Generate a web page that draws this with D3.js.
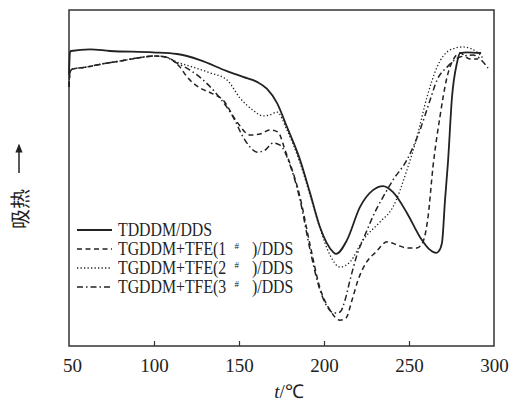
<!DOCTYPE html>
<html>
<head>
<meta charset="utf-8">
<script src="https://cdn.jsdelivr.net/npm/d3@7"></script>
<style>
  body { margin: 0; background: #fff; }
  text { fill: #222; }
</style>
</head>
<body>
<svg width="511" height="413"></svg>
<script>
// ====== données (t en °C, flux en u.a.) ====== //
const seriesNames = ["TDDDM/DDS", "TGDDM+TFE(1#)/DDS", "TGDDM+TFE(2#)/DDS", "TGDDM+TFE(3#)/DDS"];
const xTicks = [50, 100, 150, 200, 250, 300];

const tdddm = [
  [50, 80.7], [50.6, 87.5], [51.2, 87.8], [62.4, 88.3], [74.1, 87.8], [99.4, 87.4],
  [113.5, 86.9], [127.1, 85.1], [142.9, 81.8], [152.4, 80.1], [160.6, 78.6], [166.5, 76.5],
  [172.4, 72.3], [178.2, 65.2], [185.9, 55.4], [191.8, 45.5], [197.6, 35.4], [205.3, 28.0],
  [207.1, 27.4], [213.5, 31.5], [221.2, 41.4], [228.8, 46.4], [234.7, 47.6], [240.6, 45.8],
  [248.8, 39.6], [256.5, 32.4], [262.4, 28.6], [265.9, 27.7], [267.5, 28.2], [269.4, 30.7],
  [271.2, 43.5], [272.9, 54.5], [275.3, 74.1], [278.2, 84.2], [280, 87.2], [284, 87.4], [292.4, 87.2]
];

const tfe1 = [
  [50, 77.1], [50.6, 81.5], [52, 82.4], [60, 83.0], [70, 84.0], [80, 84.8], [90, 85.7],
  [100, 86.3], [106, 86.1], [115.3, 83.0], [119.4, 80.1], [127.1, 76.8], [134, 75.2],
  [140.6, 73.2], [148.8, 66.7], [156.5, 62.8], [162.4, 63.1], [168.2, 64.3], [172.9, 63.7],
  [177.1, 58.3], [185.9, 44.3], [191.8, 30.1], [197.6, 17.3], [203.5, 10.7], [209.4, 7.7],
  [212.9, 8.3], [216.5, 13.7], [220, 19.6], [224.7, 24.7], [230.6, 28.0], [237.1, 31.0],
  [242.9, 30.1], [248.8, 29.2], [254.7, 29.2], [258.2, 31.0], [261.2, 38.4], [264.1, 53.3],
  [268.2, 68.2], [272.4, 80.1], [275.9, 85.1], [280, 87.2], [285.9, 85.4], [290.6, 85.4]
];

const tfe2 = [
  [50, 77.1], [50.6, 81.5], [52, 82.4], [60, 83.0], [70, 84.0], [80, 84.8], [90, 85.7],
  [100, 86.3], [106, 86.1], [113.5, 84.5], [122.9, 83.0], [132.9, 81.3], [142.9, 79.2],
  [150.6, 73.8], [158.2, 70.2], [164.1, 68.5], [168.2, 68.8], [172.4, 69.6], [178.2, 64.3],
  [185.9, 54.5], [191.8, 44.9], [197.6, 35.1], [203.5, 27.1], [209.4, 23.5], [215.3, 25.0],
  [222.9, 31.5], [232.9, 36.9], [240.6, 41.4], [248.8, 52.4], [254.7, 62.2], [260.6, 74.1],
  [266.5, 83.0], [274.1, 88.1], [281.8, 89.0], [290, 87.5], [293.5, 85.7]
];

const tfe3 = [
  [50, 77.1], [50.6, 81.5], [52, 82.4], [60, 83.0], [70, 84.0], [80, 84.8], [90, 85.7],
  [100, 86.3], [106, 86.1], [113.5, 84.2], [121.2, 82.1], [128.8, 79.2], [138.8, 73.8],
  [146.5, 68.2], [152.4, 62.2], [156.5, 59.2], [160.6, 57.7], [165.3, 58.3], [170, 60.4],
  [174.1, 59.8], [180, 53.9], [185.9, 43.5], [191.8, 28.6], [197.6, 16.7], [202.4, 11.3],
  [205.9, 9.8], [209.4, 10.1], [212.4, 13.7], [215.3, 19.6], [219.4, 27.1], [224.1, 33.0],
  [230, 39.9], [234.7, 44.3], [240.6, 49.4], [248.8, 55.4], [256.5, 64.3], [262.4, 73.2],
  [266.5, 79.2], [272.4, 83.0], [280, 86.0], [287.6, 86.6], [296.5, 82.7]
];

const allSeries = [tdddm, tfe1, tfe2, tfe3];
const dashes = [null, "5,3.5", "1.3,2.2", "6,3,1.5,3"];
const widths = [1.8, 1.5, 1.3, 1.5];

// ====== dimensions ====== //
const margin = {top: 10, right: 17, bottom: 67, left: 69};
const width = 511 - margin.left - margin.right;
const height = 413 - margin.top - margin.bottom;

const svg = d3.select("svg");
const g = svg.append("g").attr("transform", `translate(${margin.left},${margin.top})`);

const x = d3.scaleLinear().domain([50, 300]).range([0, width]);
const y = d3.scaleLinear().domain([0, 100]).range([height, 0]);

const line = d3.line()
  .x(d => x(d[0]))
  .y(d => y(d[1]))
  .curve(d3.curveMonotoneX);

// cadre
g.append("rect")
  .attr("width", width).attr("height", height)
  .attr("fill", "none").attr("stroke", "#333").attr("stroke-width", 1.5);

// axe x (ticks vers l'intérieur)
const xAxis = g.append("g")
  .attr("transform", `translate(0,${height})`)
  .call(d3.axisBottom(x).tickValues(xTicks).tickSizeInner(-5).tickSizeOuter(0).tickPadding(13));
xAxis.select(".domain").remove();
xAxis.selectAll("line").attr("stroke", "#333").attr("stroke-width", 1.2)
  .attr("display", (d, i) => (i === 0 || i === xTicks.length - 1) ? "none" : null);
xAxis.selectAll("text")
  .attr("font-family", "'Liberation Serif', serif")
  .attr("font-size", 19).attr("fill", "#222")
  .attr("dx", (d, i) => i === 0 ? 3 : 0);

// courbes
g.selectAll(".curve")
  .data(allSeries)
  .enter().append("path")
  .attr("class", "curve")
  .attr("d", line)
  .attr("fill", "none")
  .attr("stroke", "#222")
  .attr("stroke-width", (d, i) => widths[i])
  .attr("stroke-dasharray", (d, i) => dashes[i]);

// légende : texte découpé autour du « # » mis en exposant, police resserrée
const legend = g.append("g").attr("transform", "translate(8,220)");
const rows = legend.selectAll("g")
  .data(seriesNames)
  .enter().append("g")
  .attr("transform", (d, i) => `translate(0,${i * 19})`);
rows.append("line")
  .attr("x1", 0).attr("x2", 35).attr("y1", 0).attr("y2", 0)
  .attr("stroke", "#222")
  .attr("stroke-width", (d, i) => widths[i])
  .attr("stroke-dasharray", (d, i) => dashes[i]);
rows.each(function(d) {
  const row = d3.select(this);
  const parts = d.split("#");
  const serif = "'Liberation Serif', serif";
  row.append("text")
    .attr("transform", "translate(41,6) scale(0.88,1)")
    .attr("font-family", serif).attr("font-size", 18)
    .text(parts[0]);
  if (parts.length > 1) {
    row.append("text")
      .attr("transform", "translate(157.5,0)")
      .attr("font-family", serif).attr("font-size", 9)
      .text("#");
    row.append("text")
      .attr("transform", "translate(175,6) scale(0.88,1)")
      .attr("font-family", serif).attr("font-size", 18)
      .text(parts[1]);
  }
});

// titre axe x
svg.append("text")
  .attr("x", 289).attr("y", 398)
  .attr("text-anchor", "middle")
  .attr("font-family", "'Liberation Serif', serif")
  .attr("font-size", 19)
  .html("<tspan font-style='italic'>t</tspan>/℃");

// titre axe y + flèche
svg.append("text")
  .attr("transform", "translate(28,209) rotate(-90)")
  .attr("text-anchor", "middle")
  .attr("font-family", "'Noto Sans CJK SC', sans-serif")
  .attr("font-size", 20)
  .text("吸热");

svg.append("defs").append("marker")
  .attr("id", "arr").attr("viewBox", "0 0 10 10")
  .attr("refX", 5).attr("refY", 5)
  .attr("markerWidth", 6).attr("markerHeight", 8)
  .attr("orient", "auto")
  .append("path").attr("d", "M0,1 L10,5 L0,9 Z").attr("fill", "#222");

svg.append("line")
  .attr("x1", 19).attr("x2", 19).attr("y1", 173).attr("y2", 148)
  .attr("stroke", "#222").attr("stroke-width", 1.5)
  .attr("marker-end", "url(#arr)");
</script>
</body>
</html>
